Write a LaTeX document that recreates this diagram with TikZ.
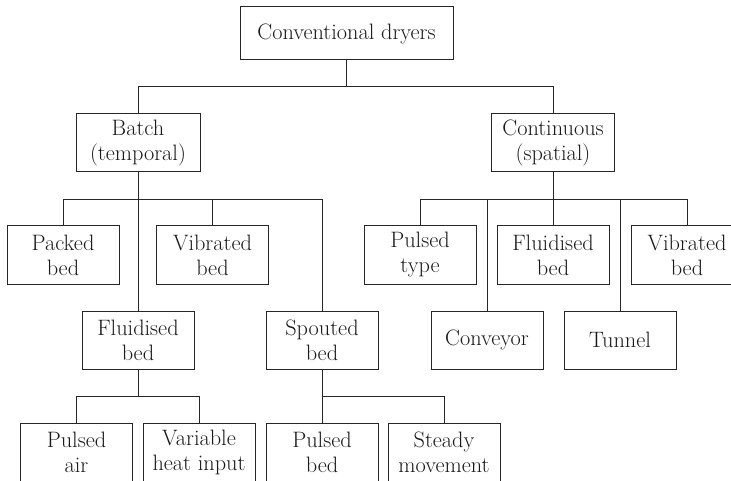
\documentclass[tikz,border=0pt]{standalone}
\usepackage{fontspec}
\begin{document}
\begin{tikzpicture}[x=1pt,y=-1pt,
  box/.style={draw=black!85, line width=1pt, inner sep=0pt, align=center,
    minimum height=58pt, minimum width=112pt, text=black!90,
    font=\fontsize{22.3}{25}\selectfont},
  conn/.style={draw=black!85, line width=1pt}]
\useasboundingbox (0,0) rectangle (731,481);
\clip (0,0) rectangle (731,481);
% level 0
\node[box, minimum width=213pt, minimum height=53pt] (top) at (346.5,33.5) {Conventional dryers};
% level 1
\node[box, minimum width=124pt] (batch) at (138,143) {Batch\\(temporal)};
\node[box, minimum width=123pt] (cont) at (553,143) {Continuous\\(spatial)};
% level 2
\node[box] (packed) at (63,255) {Packed\\bed};
\node[box] (vibb) at (212.5,255) {Vibrated\\bed};
\node[box] (ptype) at (420,255) {Pulsed\\type};
\node[box] (fluidc) at (553,255) {Fluidised\\bed};
\node[box] (vibc) at (687,255) {Vibrated\\bed};
% level 3
\node[box] (fluidb) at (138,340) {Fluidised\\bed};
\node[box] (spouted) at (322,340) {Spouted\\bed};
\node[box] (conveyor) at (487,340) {Conveyor};
\node[box] (tunnel) at (620,340) {Tunnel};
% level 4
\node[box] (pair) at (76.5,452) {Pulsed\\air};
\node[box] (varh) at (199,452) {Variable\\heat input};
\node[box] (pbed) at (322,452) {Pulsed\\bed};
\node[box] (steady) at (444,452) {Steady\\movement};
% buses
\coordinate (b1) at (0,87);
\coordinate (b2) at (0,199.5);
\coordinate (b3) at (0,396);
% connectors level 0-1
\draw[conn] (top.south) -- (top.south |- b1);
\draw[conn] (batch.north) |- (cont.north |- b1) -- (cont.north);
% batch children
\draw[conn] (batch.south) -- (fluidb.north);
\draw[conn] (packed.north) |- (spouted.north |- b2) -- (spouted.north);
\draw[conn] (vibb.north) -- (vibb.north |- b2);
% continuous children
\draw[conn] (cont.south) -- (fluidc.north);
\draw[conn] (ptype.north) |- (vibc.north |- b2) -- (vibc.north);
\draw[conn] (conveyor.north) -- (conveyor.north |- b2);
\draw[conn] (tunnel.north) -- (tunnel.north |- b2);
% fluidised bed children
\draw[conn] (fluidb.south) -- (fluidb.south |- b3);
\draw[conn] (pair.north) |- (varh.north |- b3) -- (varh.north);
% spouted bed children
\draw[conn] (spouted.south) -- (pbed.north);
\draw[conn] (pbed.north |- b3) -| (steady.north);
\end{tikzpicture}
\end{document}
